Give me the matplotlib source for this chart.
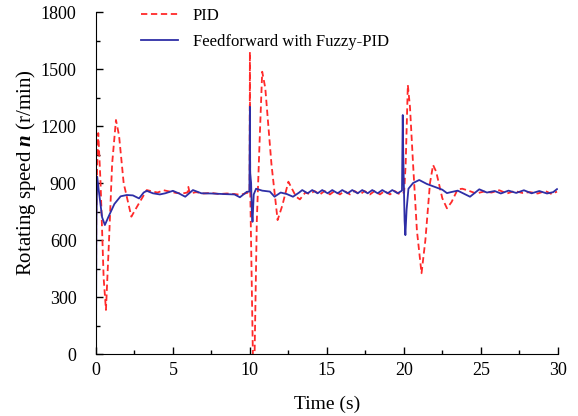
import matplotlib
matplotlib.use('Agg')
import matplotlib.pyplot as plt
from matplotlib.ticker import MultipleLocator

plt.rcParams['font.family'] = ['Liberation Serif', 'DejaVu Serif']
plt.rcParams['mathtext.fontset'] = 'custom'
plt.rcParams['mathtext.rm'] = 'Liberation Serif'
plt.rcParams['mathtext.it'] = 'Liberation Serif:italic'
plt.rcParams['mathtext.bf'] = 'Liberation Serif:bold'
plt.rcParams['mathtext.bfit'] = 'Liberation Serif:italic:bold'

# PID response (time s, speed r/min)
pid_t = [0.0, 0.02, 0.08, 0.15, 0.3, 0.5, 0.65, 0.85, 1.05, 1.3, 1.5, 1.8, 2.3, 2.7, 3.3,
         3.7, 4.0, 4.4, 4.8, 5.2, 5.6, 5.95, 6.0, 6.1, 6.5, 7.0, 7.5, 8.0, 8.5, 9.0, 9.4, 9.8, 9.98,
         10.0, 10.02, 10.2, 10.3, 10.45, 10.65, 10.8, 11.0, 11.4, 11.8, 12.1, 12.5, 13.0, 13.25,
         13.6, 13.9, 14.2, 14.55, 14.85, 15.2, 15.5, 15.85, 16.15, 16.5, 16.8, 17.15, 17.45, 17.8,
         18.1, 18.45, 18.75, 19.1, 19.4, 19.75, 20.02,
         20.12, 20.26, 20.4, 20.6, 20.85, 21.15, 21.4, 21.7, 21.9, 22.1, 22.5, 22.8, 23.1, 23.5,
         23.8, 24.2, 24.7, 25.2, 25.7, 26.2, 26.7, 27.2, 27.7, 28.2, 28.7, 29.2, 29.6, 29.95]
pid_n = [0, 740, 1000, 1163, 900, 400, 232, 600, 1000, 1232, 1150, 900, 723, 780, 863,
         855, 850, 862, 855, 848, 845, 850, 880, 845, 852, 845, 848, 842, 845, 842, 838, 848, 850,
         1591, 880, -30, -30, 700, 1163, 1486, 1400, 1000, 705, 780, 907, 828, 814,
         850, 842, 858, 840, 858, 840, 858, 840, 858, 840, 858, 840, 858, 840,
         858, 840, 858, 840, 858, 840, 850,
         1000, 1416, 1300, 1000, 650, 425, 600, 900, 995, 960, 820, 767, 800, 867,
         870, 860, 845, 855, 850, 862, 845, 858, 848, 852, 845, 858, 842, 855]

# Feedforward with Fuzzy-PID response
ff_t = [0.0, 0.03, 0.08, 0.2, 0.4, 0.58, 0.8, 1.2, 1.6, 2.0, 2.4, 2.8, 3.1, 3.3,
        3.7, 4.15, 4.5, 5.0, 5.4, 5.8, 6.3, 6.85, 7.5, 8.3, 9.0, 9.35, 9.8, 9.97,
        10.0, 10.02, 10.08, 10.12, 10.17, 10.25, 10.4, 10.8, 11.3, 11.6, 12.0, 12.4, 12.8, 13.2,
        13.4, 13.75, 14.05, 14.4, 14.7, 15.05, 15.35, 15.7, 16.0, 16.35, 16.65, 17.0, 17.3,
        17.65, 17.95, 18.3, 18.6, 18.95, 19.25, 19.6, 19.88,
        19.93, 19.96, 20.0, 20.05, 20.1, 20.18, 20.3, 20.6, 21.0, 21.5, 22.0, 22.5, 22.8, 23.0,
        23.5, 24.3, 24.9, 25.4, 25.9, 26.3, 26.8, 27.3, 27.8, 28.3, 28.8, 29.3, 29.7, 29.95]
ff_n = [0, 700, 933, 850, 720, 679, 720, 790, 830, 837, 835, 819, 850, 859,
        846, 840, 846, 859, 845, 828, 863, 846, 845, 842, 840, 825, 854, 855,
        1301, 952, 900, 760, 696, 840, 870, 860, 855, 828, 850, 842, 828, 850,
        863, 846, 863, 846, 863, 846, 863, 846, 863, 846, 863, 846, 863,
        846, 863, 846, 863, 846, 863, 846, 860,
        1258, 1065, 900, 700, 626, 760, 870, 900, 916, 895, 880, 865, 847, 851,
        860, 828, 867, 850, 858, 845, 860, 848, 862, 846, 858, 845, 852, 868]

x_ticks = [0, 5, 10, 15, 20, 25, 30]
y_ticks = [0, 300, 600, 900, 1200, 1500, 1800]

fig = plt.figure(figsize=(5.78, 4.16), dpi=100)
ax = fig.add_axes([0.166, 0.149, 0.799, 0.822])

ax.plot(pid_t, pid_n, color='#ff2a2a', linestyle=(0, (3.5, 2)), linewidth=1.3, label='PID')
ax.plot(ff_t, ff_n, color='#2e2ea6', linewidth=1.3, label='Feedforward with Fuzzy-PID')

ax.set_xlim(0, 30)
ax.set_ylim(0, 1800)
ax.set_xticks(x_ticks)
ax.set_yticks(y_ticks)
ax.xaxis.set_minor_locator(MultipleLocator(2.5))
ax.yaxis.set_minor_locator(MultipleLocator(150))
ax.tick_params(which='major', direction='in', length=5, width=1, labelsize=13)
ax.tick_params(axis='x', which='major', pad=6)
ax.tick_params(axis='y', which='major', pad=14)
ax.tick_params(which='minor', direction='in', length=3, width=1)
ax.spines['top'].set_visible(False)
ax.spines['right'].set_visible(False)

ax.set_xlabel('Time (s)', fontsize=14, labelpad=12)
ax.set_ylabel(r'Rotating speed $\mathbfit{n}$ (r/min)', fontsize=15)
ax.yaxis.set_label_coords(-0.125, 0.53)

ax.legend(loc='upper left', bbox_to_anchor=(0.065, 1.055), frameon=False, fontsize=12,
          handlelength=2.2, handletextpad=0.9, labelspacing=0.6)

fig.savefig('out.png', dpi=100)
